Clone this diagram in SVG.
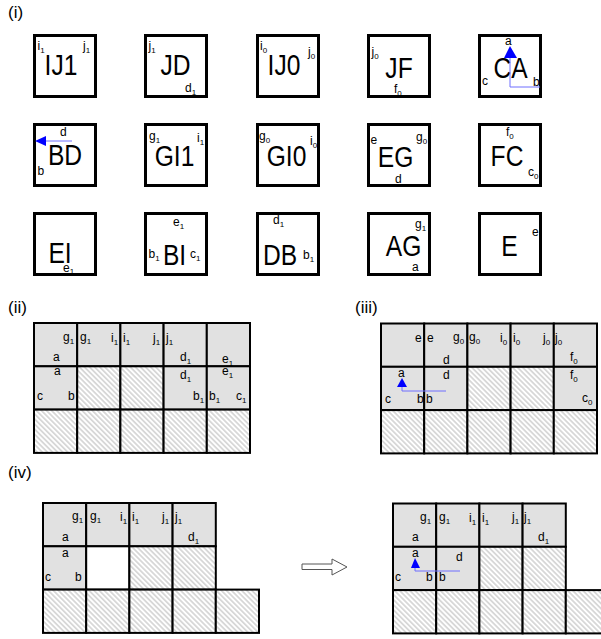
<svg xmlns="http://www.w3.org/2000/svg" width="601" height="639" viewBox="0 0 601 639">
<style>
.t{font-family:"Liberation Sans",Arial,sans-serif;font-size:12px;fill:#000}
.big{font-size:30px}
.s{font-size:8px}
.lbl{font-size:17px}
.tile{fill:#fff;stroke:#000;stroke-width:3}
.g{fill:#e1e1e1;stroke:#000;stroke-width:2}
.h{fill:url(#hatch);stroke:#000;stroke-width:2}
.w{fill:#fff;stroke:#000;stroke-width:2}
.bl{stroke:#6f6fff;stroke-width:1;fill:none}
.tri{fill:#0000ff}
</style>
<defs>
<pattern id="hatch" patternUnits="userSpaceOnUse" width="3.6" height="3.6" patternTransform="rotate(-45)">
<rect width="3.6" height="3.6" fill="#fff"/>
<line x1="1.8" y1="0" x2="1.8" y2="3.6" stroke="#c4c4c4" stroke-width="1.2"/>
</pattern>
</defs>

<text class="t lbl" x="8" y="18">(i)</text>
<text class="t lbl" x="8" y="313">(ii)</text>
<text class="t lbl" x="355" y="313">(iii)</text>
<text class="t lbl" x="8" y="478">(iv)</text>

<!-- Row 1 tiles -->
<g id="IJ1">
<rect class="tile" x="34.5" y="35.5" width="61" height="61"/>
<text class="t" x="37.5" y="50">i<tspan class="s" dy="3">1</tspan></text>
<text class="t" x="83" y="50">j<tspan class="s" dy="3">1</tspan></text>
<text class="t big" text-anchor="middle" transform="translate(61,75) scale(.82,1)">IJ1</text>
</g>
<g id="JD">
<rect class="tile" x="145.5" y="35.5" width="61" height="61"/>
<text class="t" x="148.5" y="50">j<tspan class="s" dy="3">1</tspan></text>
<text class="t big" text-anchor="middle" transform="translate(175.5,75) scale(.82,1)">JD</text>
<text class="t" x="185" y="92">d<tspan class="s" dy="3">1</tspan></text>
</g>
<g id="IJ0">
<rect class="tile" x="257.5" y="35.5" width="61" height="61"/>
<text class="t" x="260" y="50">i<tspan class="s" dy="3">0</tspan></text>
<text class="t" x="308" y="56">j<tspan class="s" dy="3">0</tspan></text>
<text class="t big" text-anchor="middle" transform="translate(284,75) scale(.82,1)">IJ0</text>
</g>
<g id="JF">
<rect class="tile" x="368.5" y="35.5" width="61" height="61"/>
<text class="t" x="371.5" y="56">j<tspan class="s" dy="3">0</tspan></text>
<text class="t big" text-anchor="middle" transform="translate(399,78) scale(.82,1)">JF</text>
<text class="t" x="394" y="93">f<tspan class="s" dy="3">0</tspan></text>
</g>
<g id="CA">
<rect class="tile" x="479.5" y="35.5" width="61" height="61"/>
<text class="t big" text-anchor="middle" transform="translate(510.5,78) scale(.82,1)">CA</text>
<polyline class="bl" points="510,58 510,87 540,87"/>
<polygon class="tri" points="510,46 504,58 517,58"/>
<text class="t" x="505" y="45">a</text>
<text class="t" x="482" y="85">c</text>
<text class="t" x="533" y="86">b</text>
</g>

<!-- Row 2 tiles -->
<g id="BD">
<rect class="tile" x="34.5" y="124.5" width="61" height="61"/>
<text class="t" x="60" y="136">d</text>
<line class="bl" x1="72" y1="141" x2="46" y2="141"/>
<polygon class="tri" points="35,141 46,136 46,146"/>
<text class="t big" text-anchor="middle" transform="translate(65,165) scale(.82,1)">BD</text>
<text class="t" x="37.5" y="175">b</text>
</g>
<g id="GI1">
<rect class="tile" x="145.5" y="124.5" width="61" height="61"/>
<text class="t" x="149" y="140">g<tspan class="s" dy="3">1</tspan></text>
<text class="t" x="197" y="142">i<tspan class="s" dy="3">1</tspan></text>
<text class="t big" text-anchor="middle" transform="translate(174.5,166) scale(.82,1)">GI1</text>
</g>
<g id="GI0">
<rect class="tile" x="257.5" y="124.5" width="61" height="61"/>
<text class="t" x="259" y="140">g<tspan class="s" dy="3">0</tspan></text>
<text class="t" x="310" y="145">i<tspan class="s" dy="3">0</tspan></text>
<text class="t big" text-anchor="middle" transform="translate(286.5,166) scale(.82,1)">GI0</text>
</g>
<g id="EG">
<rect class="tile" x="368.5" y="124.5" width="61" height="61"/>
<text class="t" x="370.5" y="144">e</text>
<text class="t" x="416" y="141">g<tspan class="s" dy="3">0</tspan></text>
<text class="t big" text-anchor="middle" transform="translate(395.5,167) scale(.82,1)">EG</text>
<text class="t" x="395" y="183">d</text>
</g>
<g id="FC">
<rect class="tile" x="479.5" y="124.5" width="61" height="61"/>
<text class="t" x="506" y="136">f<tspan class="s" dy="3">0</tspan></text>
<text class="t big" text-anchor="middle" transform="translate(507,166) scale(.82,1)">FC</text>
<text class="t" x="528" y="176">c<tspan class="s" dy="3">0</tspan></text>
</g>

<!-- Row 3 tiles -->
<g id="EI">
<rect class="tile" x="34.5" y="213.5" width="61" height="61"/>
<text class="t big" text-anchor="middle" transform="translate(60,263) scale(.82,1)">EI</text>
<text class="t" x="63" y="272">e<tspan class="s" dy="2">1</tspan></text>
</g>
<g id="BI">
<rect class="tile" x="145.5" y="213.5" width="61" height="61"/>
<text class="t" x="173" y="226">e<tspan class="s" dy="3">1</tspan></text>
<text class="t" x="148.5" y="258">b<tspan class="s" dy="3">1</tspan></text>
<text class="t big" text-anchor="middle" transform="translate(174.5,265) scale(.82,1)">BI</text>
<text class="t" x="190" y="258">c<tspan class="s" dy="3">1</tspan></text>
</g>
<g id="DB">
<rect class="tile" x="257.5" y="213.5" width="61" height="61"/>
<text class="t" x="273" y="224">d<tspan class="s" dy="3">1</tspan></text>
<text class="t big" text-anchor="middle" transform="translate(280,265) scale(.82,1)">DB</text>
<text class="t" x="303" y="259">b<tspan class="s" dy="3">1</tspan></text>
</g>
<g id="AG">
<rect class="tile" x="368.5" y="213.5" width="61" height="61"/>
<text class="t" x="415" y="228">g<tspan class="s" dy="3">1</tspan></text>
<text class="t big" text-anchor="middle" transform="translate(403.5,256) scale(.82,1)">AG</text>
<text class="t" x="412" y="271">a</text>
</g>
<g id="E">
<rect class="tile" x="479.5" y="213.5" width="61" height="61"/>
<text class="t big" text-anchor="middle" transform="translate(509.5,256) scale(.82,1)">E</text>
<text class="t" x="532" y="236">e</text>
</g>

<!-- (ii) grid -->
<g id="grid-ii">
<rect class="g" x="34" y="323" width="43.2" height="43.3"/>
<rect class="g" x="77.2" y="323" width="43.2" height="43.3"/>
<rect class="g" x="120.4" y="323" width="43.2" height="43.3"/>
<rect class="g" x="163.6" y="323" width="43.2" height="43.3"/>
<rect class="g" x="206.8" y="323" width="43.2" height="43.3"/>
<rect class="g" x="34" y="366.3" width="43.2" height="43.3"/>
<rect class="h" x="77.2" y="366.3" width="43.2" height="43.3"/>
<rect class="h" x="120.4" y="366.3" width="43.2" height="43.3"/>
<rect class="g" x="163.6" y="366.3" width="43.2" height="43.3"/>
<rect class="g" x="206.8" y="366.3" width="43.2" height="43.3"/>
<rect class="h" x="34" y="409.6" width="43.2" height="43.3"/>
<rect class="h" x="77.2" y="409.6" width="43.2" height="43.3"/>
<rect class="h" x="120.4" y="409.6" width="43.2" height="43.3"/>
<rect class="h" x="163.6" y="409.6" width="43.2" height="43.3"/>
<rect class="h" x="206.8" y="409.6" width="43.2" height="43.3"/>
<text class="t" x="63" y="341">g<tspan class="s" dy="3">1</tspan></text>
<text class="t" x="53" y="361">a</text>
<text class="t" x="80" y="341">g<tspan class="s" dy="3">1</tspan></text>
<text class="t" x="111" y="342">i<tspan class="s" dy="3">1</tspan></text>
<text class="t" x="123" y="342">i<tspan class="s" dy="3">1</tspan></text>
<text class="t" x="153" y="342">j<tspan class="s" dy="3">1</tspan></text>
<text class="t" x="166" y="342">j<tspan class="s" dy="3">1</tspan></text>
<text class="t" x="180" y="361">d<tspan class="s" dy="3">1</tspan></text>
<text class="t" x="222" y="363">e<tspan class="s" dy="3">1</tspan></text>
<text class="t" x="54" y="375">a</text>
<text class="t" x="37" y="400">c</text>
<text class="t" x="68" y="400">b</text>
<text class="t" x="180" y="379">d<tspan class="s" dy="3">1</tspan></text>
<text class="t" x="193" y="400">b<tspan class="s" dy="3">1</tspan></text>
<text class="t" x="222" y="375">e<tspan class="s" dy="3">1</tspan></text>
<text class="t" x="209" y="400">b<tspan class="s" dy="3">1</tspan></text>
<text class="t" x="236" y="400">c<tspan class="s" dy="3">1</tspan></text>
</g>

<!-- (iii) grid -->
<g id="grid-iii">
<rect class="g" x="381" y="323.5" width="43.2" height="43.3"/>
<rect class="g" x="424.2" y="323.5" width="43.2" height="43.3"/>
<rect class="g" x="467.4" y="323.5" width="43.2" height="43.3"/>
<rect class="g" x="510.6" y="323.5" width="43.2" height="43.3"/>
<rect class="g" x="553.8" y="323.5" width="43.2" height="43.3"/>
<rect class="g" x="381" y="366.8" width="43.2" height="43.3"/>
<rect class="g" x="424.2" y="366.8" width="43.2" height="43.3"/>
<rect class="h" x="467.4" y="366.8" width="43.2" height="43.3"/>
<rect class="h" x="510.6" y="366.8" width="43.2" height="43.3"/>
<rect class="g" x="553.8" y="366.8" width="43.2" height="43.3"/>
<rect class="h" x="381" y="410.1" width="43.2" height="43.3"/>
<rect class="h" x="424.2" y="410.1" width="43.2" height="43.3"/>
<rect class="h" x="467.4" y="410.1" width="43.2" height="43.3"/>
<rect class="h" x="510.6" y="410.1" width="43.2" height="43.3"/>
<rect class="h" x="553.8" y="410.1" width="43.2" height="43.3"/>
<text class="t" x="415" y="342">e</text>
<text class="t" x="427" y="342">e</text>
<text class="t" x="453" y="341">g<tspan class="s" dy="3">0</tspan></text>
<text class="t" x="443" y="364">d</text>
<text class="t" x="469" y="341">g<tspan class="s" dy="3">0</tspan></text>
<text class="t" x="500" y="342">i<tspan class="s" dy="3">0</tspan></text>
<text class="t" x="513" y="342">i<tspan class="s" dy="3">0</tspan></text>
<text class="t" x="543" y="342">j<tspan class="s" dy="3">0</tspan></text>
<text class="t" x="555" y="342">j<tspan class="s" dy="3">0</tspan></text>
<text class="t" x="570" y="361">f<tspan class="s" dy="3">0</tspan></text>
<polyline class="bl" points="402,387 402,391 446,391"/>
<polygon class="tri" points="402,378 397,387 407,387"/>
<text class="t" x="398" y="377">a</text>
<text class="t" x="385" y="403">c</text>
<text class="t" x="417" y="403">b</text>
<text class="t" x="443" y="379">d</text>
<text class="t" x="426" y="403">b</text>
<text class="t" x="570" y="379">f<tspan class="s" dy="3">0</tspan></text>
<text class="t" x="582" y="402">c<tspan class="s" dy="3">0</tspan></text>
</g>

<!-- (iv) left grid -->
<g id="grid-iv-before">
<rect class="g" x="43" y="503" width="43.2" height="43.3"/>
<rect class="g" x="86.2" y="503" width="43.2" height="43.3"/>
<rect class="g" x="129.4" y="503" width="43.2" height="43.3"/>
<rect class="g" x="172.6" y="503" width="43.2" height="43.3"/>
<rect class="g" x="43" y="546.3" width="43.2" height="43.3"/>
<rect class="w" x="86.2" y="546.3" width="43.2" height="43.3"/>
<rect class="h" x="129.4" y="546.3" width="43.2" height="43.3"/>
<rect class="h" x="172.6" y="546.3" width="43.2" height="43.3"/>
<rect class="h" x="43" y="589.6" width="43.2" height="43.3"/>
<rect class="h" x="86.2" y="589.6" width="43.2" height="43.3"/>
<rect class="h" x="129.4" y="589.6" width="43.2" height="43.3"/>
<rect class="h" x="172.6" y="589.6" width="43.2" height="43.3"/>
<rect class="h" x="215.8" y="589.6" width="43.2" height="43.3"/>
<text class="t" x="72" y="520">g<tspan class="s" dy="3">1</tspan></text>
<text class="t" x="62" y="541">a</text>
<text class="t" x="90" y="520">g<tspan class="s" dy="3">1</tspan></text>
<text class="t" x="120" y="521">i<tspan class="s" dy="3">1</tspan></text>
<text class="t" x="132" y="521">i<tspan class="s" dy="3">1</tspan></text>
<text class="t" x="162" y="521">j<tspan class="s" dy="3">1</tspan></text>
<text class="t" x="175" y="521">j<tspan class="s" dy="3">1</tspan></text>
<text class="t" x="188" y="541">d<tspan class="s" dy="3">1</tspan></text>
<text class="t" x="62" y="557">a</text>
<text class="t" x="45" y="581">c</text>
<text class="t" x="75" y="581">b</text>
</g>

<!-- (iv) right grid -->
<g id="grid-iv-after">
<rect class="g" x="393" y="503.5" width="43.2" height="43.3"/>
<rect class="g" x="436.2" y="503.5" width="43.2" height="43.3"/>
<rect class="g" x="479.4" y="503.5" width="43.2" height="43.3"/>
<rect class="g" x="522.6" y="503.5" width="43.2" height="43.3"/>
<rect class="g" x="393" y="546.8" width="43.2" height="43.3"/>
<rect class="g" x="436.2" y="546.8" width="43.2" height="43.3"/>
<rect class="h" x="479.4" y="546.8" width="43.2" height="43.3"/>
<rect class="h" x="522.6" y="546.8" width="43.2" height="43.3"/>
<rect class="h" x="393" y="590.1" width="43.2" height="43.3"/>
<rect class="h" x="436.2" y="590.1" width="43.2" height="43.3"/>
<rect class="h" x="479.4" y="590.1" width="43.2" height="43.3"/>
<rect class="h" x="522.6" y="590.1" width="43.2" height="43.3"/>
<rect class="h" x="565.8" y="590.1" width="43.2" height="43.3"/>
<text class="t" x="420" y="521">g<tspan class="s" dy="3">1</tspan></text>
<text class="t" x="412" y="541">a</text>
<text class="t" x="439" y="521">g<tspan class="s" dy="3">1</tspan></text>
<text class="t" x="469" y="522">i<tspan class="s" dy="3">1</tspan></text>
<text class="t" x="482" y="522">i<tspan class="s" dy="3">1</tspan></text>
<text class="t" x="512" y="521">j<tspan class="s" dy="3">1</tspan></text>
<text class="t" x="524" y="521">j<tspan class="s" dy="3">1</tspan></text>
<text class="t" x="538" y="541">d<tspan class="s" dy="3">1</tspan></text>
<polyline class="bl" points="415,568 415,571 460,571"/>
<polygon class="tri" points="415,558 411,568 420,568"/>
<text class="t" x="412" y="557">a</text>
<text class="t" x="456" y="561">d</text>
<text class="t" x="395" y="581">c</text>
<text class="t" x="426" y="581">b</text>
<text class="t" x="439" y="581">b</text>
</g>

<g id="connectors">
<polygon points="302,564 332,564 332,559 347,567 332,575 332,569.5 302,569.5" fill="#fff" stroke="#555" stroke-width="1"/>
</g>
</svg>
